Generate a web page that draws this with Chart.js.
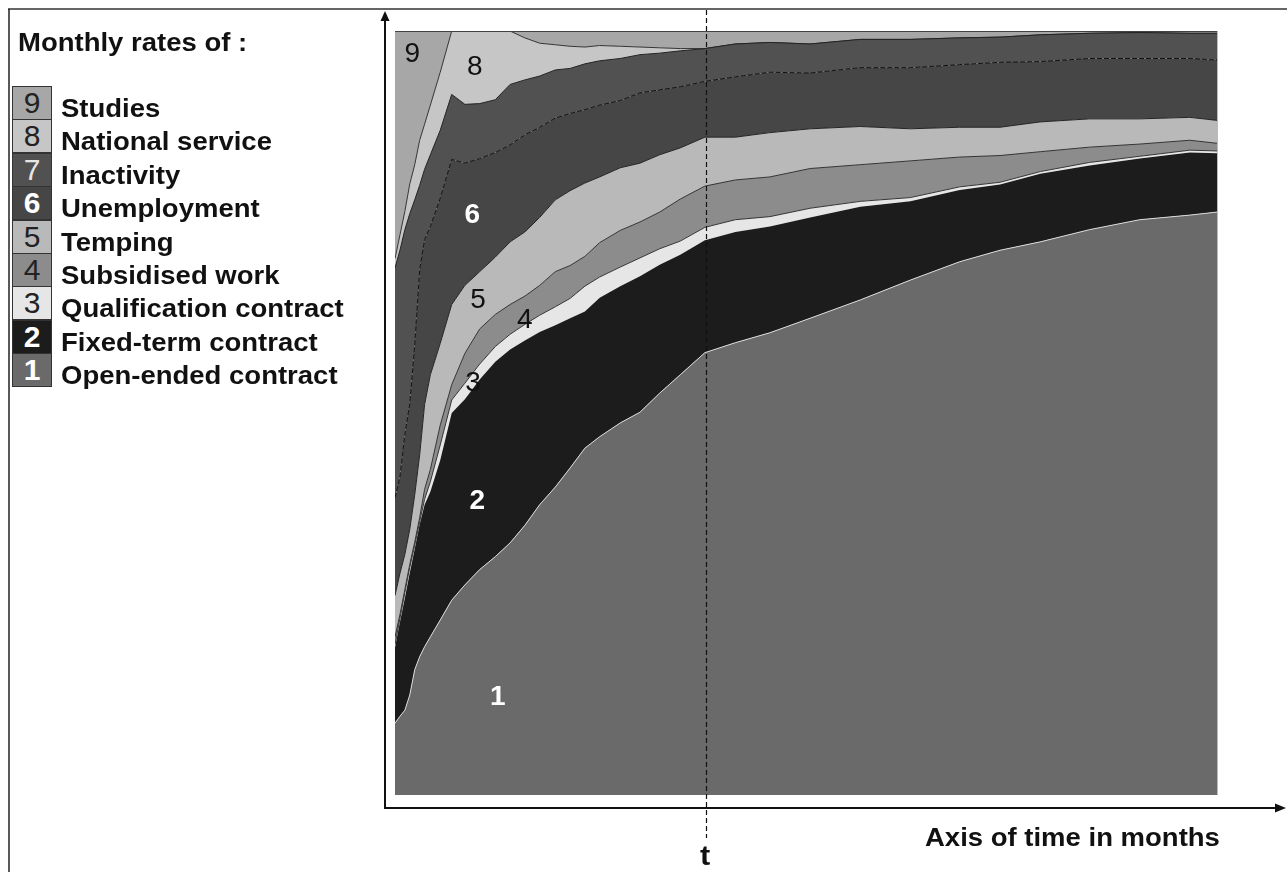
<!DOCTYPE html>
<html>
<head>
<meta charset="utf-8">
<script src="https://cdn.jsdelivr.net/npm/chart.js@4.4.1/dist/chart.umd.min.js"></script>
<style>
  html, body { margin: 0; padding: 0; background: #fff; }
  body { width: 1287px; height: 872px; position: relative; overflow: hidden;
         font-family: "Liberation Sans", Arial, sans-serif; }
  #chart { position: absolute; left: 0; top: 0; }
  .txt { position: absolute; white-space: nowrap; color: #111; font-weight: bold;
         font-size: 25px; line-height: 25px; transform: scaleX(1.1); transform-origin: left center; }
  .box { position: absolute; left: 12px; width: 40px; height: 34px; box-sizing: border-box;
         border: 1px solid #333; text-align: center; font-size: 30px; line-height: 32px; }
</style>
</head>
<body>
<canvas id="chart" width="1287" height="872"></canvas>
<div id="legend"></div>
<div class="txt" style="left:18px;top:30px;">Monthly rates of :</div>
<div class="txt" style="left:925px;top:825px;">Axis of time in months</div>
<div class="txt" style="left:700px;top:843px;font-size:28px;">t</div>

<script>
// months after leaving school (0 = start of the observation window)
const months = [0, 0.6, 1.2, 1.8, 2.4, 3.0, 3.6, 4.3, 5.5, 6.9, 8.5, 10.3, 12.2, 14.0, 15.8, 17.6,
  19.5, 21.3, 23.1, 24.9, 27.4, 29.8, 32.2, 34.7, 37.7, 41.4, 45.6, 50.5, 56.6, 62.7, 68.7,
  73.6, 78.5, 84.5, 90.6, 96.7, 100];

// monthly rates (%) of each situation, bottom layer first
const openEnded = [9.4, 10.3, 11.1, 13.1, 16.4, 18.1, 19.4, 20.7, 22.9, 25.5, 27.5, 29.5, 31.2, 33.0,
  35.3, 38.0, 40.3, 42.8, 45.4, 46.9, 48.7, 50.1, 52.6, 55.0, 57.9, 59.2, 60.5, 62.4, 64.8, 67.4,
  69.8, 71.3, 72.4, 74.0, 75.3, 75.9, 76.3];
const fixedTerm = [9.9, 12.3, 14.7, 16.0, 15.8, 17.3, 18.6, 19.0, 20.9, 24.5, 24.3, 24.9, 25.5, 25.3,
  24.2, 22.6, 21.2, 19.6, 17.9, 18.2, 17.9, 17.8, 16.8, 15.7, 14.7, 14.5, 13.9, 13.2, 12.2, 10.3,
  9.4, 8.6, 8.9, 8.4, 8.0, 8.2, 7.7];
const qualification = [0.4, 0.5, 0.7, 0.7, 0.5, 0.4, 0.7, 1.3, 2.0, 1.7, 2.1, 2.0, 2.0, 2.0, 2.1, 2.2,
  2.4, 2.6, 3.3, 2.7, 2.5, 2.4, 2.1, 1.8, 1.7, 1.6, 1.3, 1.2, 0.7, 0.5, 0.4, 0.3, 0.3, 0.4, 0.3,
  0.3, 0.3];
const subsidised = [1.0, 0.5, 0.4, 0.4, 0.4, 0.5, 1.3, 1.6, 2.6, 2.0, 3.9, 4.6, 4.2, 3.9, 3.7, 3.9,
  4.6, 4.3, 3.9, 4.5, 4.8, 4.7, 4.8, 5.5, 5.4, 5.2, 5.2, 5.2, 4.8, 4.8, 3.9, 3.5, 2.6, 2.0, 1.6,
  1.3, 1.0];
const temping = [5.4, 5.4, 4.6, 4.6, 6.2, 8.2, 11.1, 12.4, 10.7, 10.5, 8.9, 7.5, 7.5, 8.2, 8.4, 8.9,
  9.4, 9.8, 9.6, 8.6, 8.2, 7.7, 7.5, 6.7, 6.4, 5.6, 5.8, 5.2, 5.0, 4.2, 3.9, 3.7, 3.9, 3.7, 3.3,
  3.0, 3.0];
const unemployment = [12.8, 12.6, 15.7, 16.4, 19.6, 24.2, 21.6, 19.4, 19.0, 19.0, 16.0, 14.8, 13.7,
  12.7, 12.7, 11.8, 10.7, 10.1, 9.6, 9.4, 8.8, 9.2, 8.5, 8.0, 7.3, 7.9, 7.9, 7.3, 7.7, 8.0, 8.2,
  8.5, 7.9, 7.9, 7.9, 7.7, 7.9];
const inactivity = [30.1, 29.7, 26.8, 24.9, 19.0, 11.1, 9.2, 9.4, 8.9, 8.5, 7.7, 7.2, 6.9, 7.9, 7.2,
  6.7, 6.3, 5.9, 6.0, 5.8, 5.5, 5.0, 4.8, 4.7, 4.3, 4.3, 3.9, 3.8, 3.7, 3.7, 3.5, 3.3, 3.5, 3.3,
  3.4, 3.3, 3.5];
const nationalService = [1.2, 2.0, 2.4, 3.9, 4.6, 5.9, 5.9, 6.5, 7.6, 8.3, 9.6, 9.5, 9.0, 7.0, 5.5,
  4.3, 3.3, 2.9, 2.2, 2.0, 1.6, 1.0, 0.7, 0.3, 0, 0, 0, 0, 0, 0, 0, 0, 0, 0, 0, 0, 0];
const studies = [29.8, 26.7, 23.6, 20.0, 17.5, 14.3, 12.2, 9.7, 5.4, 0, 0, 0, 0, 0, 0.9, 1.6, 1.8,
  2.0, 2.1, 1.9, 2.0, 2.1, 2.2, 2.3, 2.3, 1.7, 1.5, 1.7, 1.1, 1.1, 0.9, 0.8, 0.5, 0.3, 0.2, 0.3, 0.3];

const seriesNames = ["Open-ended contract", "Fixed-term contract", "Qualification contract",
  "Subsidised work", "Temping", "Unemployment", "Inactivity", "National service", "Studies"];
const tMonth = 37.8;

const series = [openEnded, fixedTerm, qualification, subsidised, temping,
  unemployment, inactivity, nationalService, studies];

// grey shades and boundary strokes, same order as the series
const fills = ["#6a6a6a", "#1c1c1c", "#e6e6e6", "#8c8c8c", "#b9b9b9",
  "#464646", "#515151", "#c6c6c6", "#a7a7a7"];
const edges = ["#d8d8d8", "#1c1c1c", "#333", "#333", "#222", "#111", "#222", "#333", "#a7a7a7"];
const digitStyle = [
  { color: "#fff", weight: "bold" }, { color: "#fff", weight: "bold" },
  { color: "#222", weight: "normal" }, { color: "#222", weight: "normal" },
  { color: "#222", weight: "normal" }, { color: "#fff", weight: "bold" },
  { color: "#e6e6e6", weight: "normal" }, { color: "#222", weight: "normal" },
  { color: "#222", weight: "normal" }
];

// legend, top row = layer 9
const legend = document.getElementById("legend");
for (let r = 0; r < 9; r++) {
  const k = 8 - r;
  const top = 86 + r * 33.4;
  const box = document.createElement("div");
  box.className = "box";
  box.style.top = top + "px";
  box.style.background = fills[k];
  box.style.color = digitStyle[k].color;
  box.style.fontWeight = digitStyle[k].weight;
  box.textContent = k + 1;
  legend.appendChild(box);
  const lab = document.createElement("div");
  lab.className = "txt";
  lab.style.left = "61px";
  lab.style.top = (top + 10) + "px";
  lab.textContent = seriesNames[k];
  legend.appendChild(lab);
}

// where the layer numbers sit inside the chart (month, cumulative %)
const areaLabels = [
  { n: "9", m: 2.1, p: 97.0 }, { n: "8", m: 9.7, p: 95.2 }, { n: "6", m: 9.4, p: 75.9 },
  { n: "5", m: 10.1, p: 64.8 }, { n: "4", m: 15.8, p: 62.2 }, { n: "3", m: 9.5, p: 53.9 },
  { n: "2", m: 10.0, p: 38.4 }, { n: "1", m: 12.5, p: 12.8 }
];

const decorations = {
  id: "decorations",
  afterDraw(chart) {
    const ctx = chart.ctx;
    const xs = chart.scales.x, ys = chart.scales.y;
    const a = chart.chartArea;
    ctx.save();

    // frame of the figure
    ctx.strokeStyle = "#666"; ctx.lineWidth = 2;
    ctx.beginPath(); ctx.moveTo(8, 9); ctx.lineTo(1287, 9); ctx.stroke();
    ctx.strokeStyle = "#222"; ctx.lineWidth = 1.5;
    ctx.beginPath(); ctx.moveTo(9, 9); ctx.lineTo(9, 872); ctx.stroke();

    // plot edges
    ctx.strokeStyle = "#444"; ctx.lineWidth = 1;
    ctx.beginPath(); ctx.moveTo(a.left, a.top + 0.5); ctx.lineTo(a.right, a.top + 0.5); ctx.stroke();
    ctx.strokeStyle = "#bbb";
    ctx.beginPath(); ctx.moveTo(a.right + 0.5, a.top); ctx.lineTo(a.right + 0.5, a.bottom); ctx.stroke();

    // axes with arrows
    const ox = a.left - 10, oy = a.bottom + 13;
    ctx.strokeStyle = "#111"; ctx.fillStyle = "#111"; ctx.lineWidth = 2;
    ctx.beginPath(); ctx.moveTo(ox, oy + 1); ctx.lineTo(ox, 18); ctx.stroke();
    ctx.beginPath(); ctx.moveTo(ox, 11); ctx.lineTo(ox - 4.5, 21); ctx.lineTo(ox + 4.5, 21); ctx.fill();
    ctx.beginPath(); ctx.moveTo(ox, oy); ctx.lineTo(1278, oy); ctx.stroke();
    ctx.beginPath(); ctx.moveTo(1286, oy); ctx.lineTo(1275, oy - 4.5); ctx.lineTo(1275, oy + 4.5); ctx.fill();

    // dashed marker at t
    const tx = Math.round(xs.getPixelForValue(tMonth)) + 0.5;
    ctx.lineWidth = 1.2; ctx.setLineDash([5, 3]);
    ctx.beginPath(); ctx.moveTo(tx, 10); ctx.lineTo(tx, 838); ctx.stroke();
    ctx.setLineDash([]);

    // layer numbers
    ctx.textAlign = "center"; ctx.textBaseline = "middle";
    areaLabels.forEach(l => {
      const k = Number(l.n) - 1;
      ctx.fillStyle = digitStyle[k].color === "#fff" ? "#fff" : "#111";
      ctx.font = digitStyle[k].weight + " 28px 'Liberation Sans', Arial, sans-serif";
      ctx.fillText(l.n, xs.getPixelForValue(l.m), ys.getPixelForValue(l.p));
    });
    ctx.restore();
  }
};

new Chart(document.getElementById("chart"), {
  type: "line",
  data: {
    datasets: series.map((vals, k) => ({
      label: seriesNames[k],
      data: vals.map((v, i) => ({ x: months[i], y: v })),
      backgroundColor: fills[k],
      borderColor: edges[k],
      borderWidth: (k === 1 || k === 8) ? 0 : 1,
      borderDash: k === 5 ? [5, 2] : [],
      fill: k === 0 ? "origin" : "-1",
      pointRadius: 0,
      tension: 0
    }))
  },
  options: {
    responsive: false,
    animation: false,
    events: [],
    layout: { padding: { left: 395, right: 70, top: 31, bottom: 77 } },
    scales: {
      x: { type: "linear", min: 0, max: 100, display: false },
      y: { stacked: true, min: 0, max: 100, display: false }
    },
    plugins: { legend: { display: false }, tooltip: { enabled: false } }
  },
  plugins: [decorations]
});
</script>
</body>
</html>
